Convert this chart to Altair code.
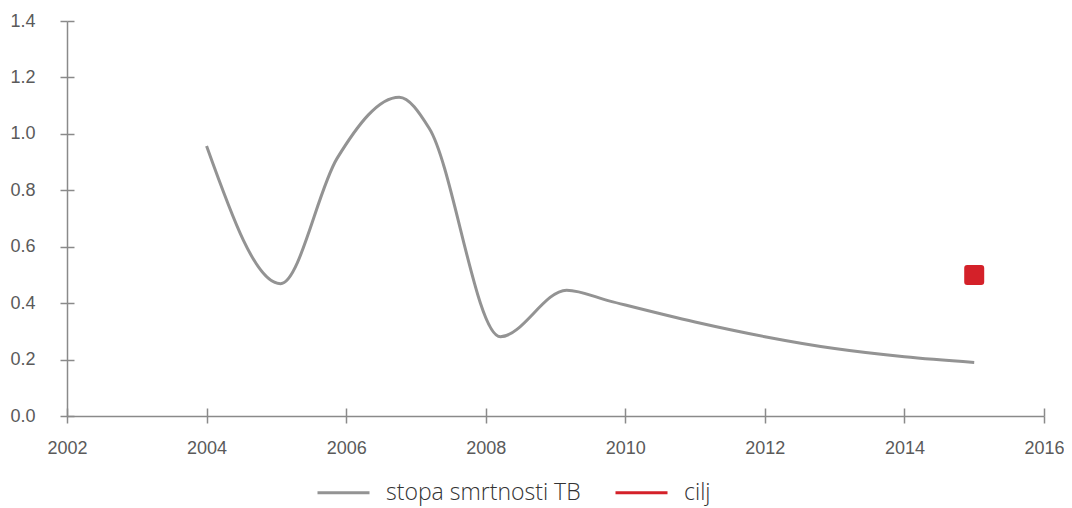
import altair as alt
import pandas as pd

# TB mortality rate line (read at the curve's visible turning points)
years = [2004, 2005.06, 2005.87, 2006.76, 2007.19, 2008.21, 2009.16, 2009.78, 2011, 2012, 2013, 2014, 2015]
rates = [0.957, 0.469, 0.913, 1.13, 1.02, 0.281, 0.446, 0.407, 0.333, 0.281, 0.239, 0.21, 0.19]

# target point
target_year = [2015]
target_value = [0.5]

series_names = ["stopa smrtnosti TB", "cilj"]
series_colors = ["#939393", "#d42129"]

x_ticks = [2002, 2004, 2006, 2008, 2010, 2012, 2014, 2016]
y_ticks = [0.0, 0.2, 0.4, 0.6, 0.8, 1.0, 1.2, 1.4]

line_df = pd.DataFrame({"year": years, "value": rates, "series": series_names[0]})
target_df = pd.DataFrame({"year": target_year, "value": target_value, "series": series_names[1]})

xscale = alt.Scale(domain=[2002, 2016], nice=False, zero=False)
yscale = alt.Scale(domain=[0, 1.4], nice=False)

axis_color = "#8a8a8a"
label_color = "#5a5a5a"

color = alt.Color(
    "series:N",
    scale=alt.Scale(domain=series_names, range=series_colors),
    legend=alt.Legend(
        title=None,
        orient="none",
        legendX=249,
        legendY=444,
        direction="horizontal",
        symbolType="stroke",
        symbolSize=2704,
        symbolStrokeWidth=3,
        labelFont="Open Sans",
        labelFontWeight=300,
        labelFontSize=23,
        labelColor="#333333",
        labelOffset=15,
        labelLimit=400,
        columnPadding=28,
    ),
)

line = alt.Chart(line_df).mark_line(interpolate="monotone", strokeWidth=3).encode(
    x=alt.X(
        "year:Q",
        scale=xscale,
        axis=alt.Axis(
            values=x_ticks, format="d", title=None, orient="bottom",
            tickSize=7, tickColor=axis_color, tickWidth=1.5,
            domainColor=axis_color, domainWidth=1.5,
            labelFont="Liberation Sans", labelFontSize=18, labelColor=label_color,
            labelPadding=16, labelFlush=False, grid=False,
        ),
    ),
    y=alt.Y(
        "value:Q",
        scale=yscale,
        axis=alt.Axis(
            values=y_ticks, format=".1f", title=None, orient="left",
            tickSize=7, tickColor=axis_color, tickWidth=1.5,
            domainColor=axis_color, domainWidth=1.5,
            labelFont="Liberation Sans", labelFontSize=18, labelColor=label_color,
            labelPadding=25, labelFlush=False, grid=False,
        ),
    ),
    color=color,
)

rounded_square = "M -1 -0.7 Q -1 -1 -0.7 -1 L 0.7 -1 Q 1 -1 1 -0.7 L 1 0.7 Q 1 1 0.7 1 L -0.7 1 Q -1 1 -1 0.7 Z"

target = alt.Chart(target_df).mark_point(
    shape=rounded_square, size=400, filled=True, opacity=1
).encode(
    x=alt.X("year:Q", scale=xscale, axis=None),
    y=alt.Y("value:Q", scale=yscale, axis=None),
    color=color,
)

# inner half of the crossing ticks
inner_ticks = alt.Chart(target_df).mark_point(opacity=0).encode(
    x=alt.X(
        "year:Q", scale=xscale,
        axis=alt.Axis(values=x_ticks, orient="bottom", offset=-8, tickSize=8,
                      tickColor=axis_color, tickWidth=1.5, labels=False,
                      domain=False, title=None, grid=False),
    ),
    y=alt.Y(
        "value:Q", scale=yscale,
        axis=alt.Axis(values=y_ticks, orient="left", offset=-7, tickSize=7,
                      tickColor=axis_color, tickWidth=1.5, labels=False,
                      domain=False, title=None, grid=False),
    ),
)

chart = (
    alt.layer(line, target, inner_ticks)
    .resolve_axis(x="independent", y="independent")
    .properties(
        width=977,
        height=395,
        autosize=alt.AutoSizeParams(type="none"),
        padding={"left": 59, "top": 13, "right": 20, "bottom": 92},
        background="#ffffff",
    )
    .configure_view(strokeWidth=0)
)

chart.save("out.html", embed_options={"renderer": "svg", "actions": False})
